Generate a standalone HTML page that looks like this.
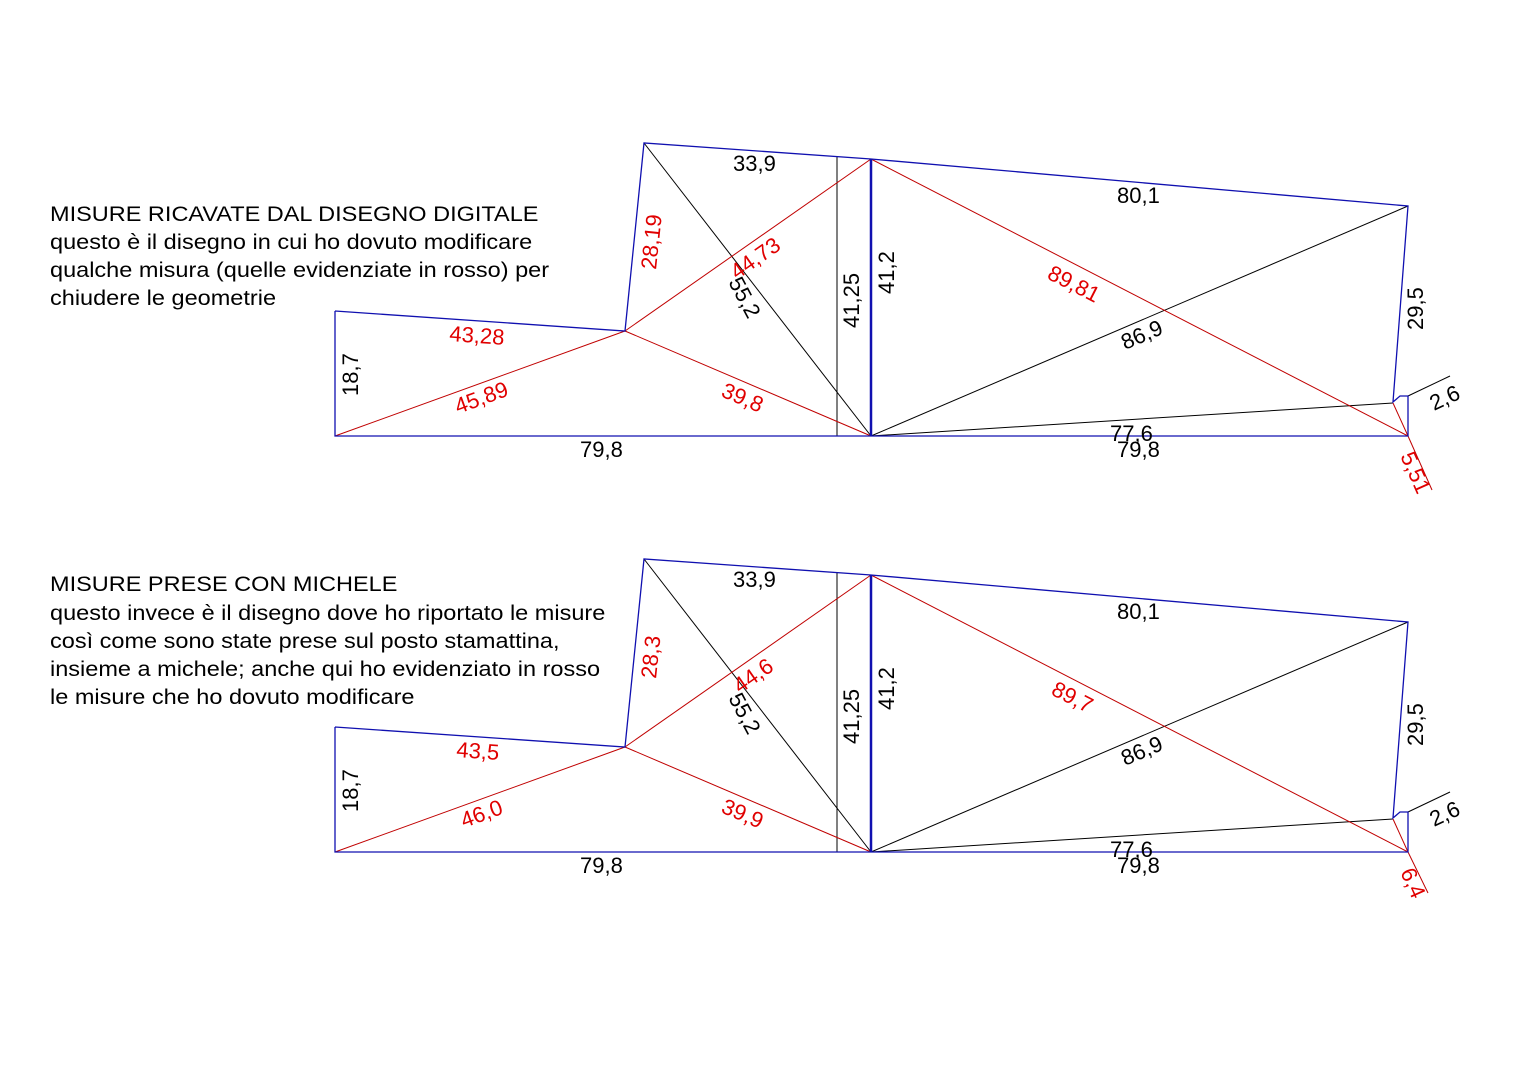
<!DOCTYPE html>
<html><head><meta charset="utf-8"><style>
html,body{margin:0;padding:0;background:#fff}
svg{display:block}
text{font-family:"Liberation Sans",sans-serif}
.b{fill:#000}.r{fill:#e00000}
</style></head><body>
<svg width="1527" height="1080" viewBox="0 0 1527 1080" xmlns="http://www.w3.org/2000/svg">
<g font-size="21" fill="#000" transform="translate(50,0) scale(1.12,1) translate(-50,0)">
<text x="50" y="221">MISURE RICAVATE DAL DISEGNO DIGITALE</text>
<text x="50" y="249">questo è il disegno in cui ho dovuto modificare</text>
<text x="50" y="277">qualche misura (quelle evidenziate in rosso) per</text>
<text x="50" y="305">chiudere le geometrie</text>
<text x="50" y="591">MISURE PRESE CON MICHELE</text>
<text x="50" y="620">questo invece è il disegno dove ho riportato le misure</text>
<text x="50" y="648">così come sono state prese sul posto stamattina,</text>
<text x="50" y="676">insieme a michele; anche qui ho evidenziato in rosso</text>
<text x="50" y="704">le misure che ho dovuto modificare</text>
</g>

<!-- TOP FIGURE -->
<g id="top">
<g stroke="#000" stroke-width="1" fill="none">
<line x1="837" y1="157" x2="837" y2="436"/>
<line x1="644" y1="143" x2="871" y2="436"/>
<line x1="871" y1="436" x2="1408" y2="206"/>
<line x1="871" y1="436" x2="1393" y2="403"/>
<line x1="1408" y1="396" x2="1450" y2="376"/>
</g>
<g stroke="#c00000" stroke-width="1" fill="none">
<line x1="335" y1="436" x2="625" y2="331"/>
<line x1="625" y1="331" x2="871" y2="436"/>
<line x1="625" y1="331" x2="871" y2="159"/>
<line x1="871" y1="159" x2="1408" y2="436"/>
<line x1="1393" y1="403" x2="1408" y2="436"/>
<line x1="1408" y1="436" x2="1432" y2="490"/>
</g>
<g stroke="#1010b0" stroke-width="1.3" fill="none">
<polyline points="335,311 335,436 1408,436 1408,396 1400,396 1393,402 1408,206 871,159 644,143 625,331 335,311"/>
<line x1="871" y1="159" x2="871" y2="436" stroke-width="2.5"/>
</g>
<g font-size="22">
<text class="b" x="733" y="171">33,9</text>
<text class="b" x="1117" y="203">80,1</text>
<text class="b" x="580" y="457">79,8</text>
<text class="b" x="1117" y="457">79,8</text>
<text class="b" x="1110" y="441">77,6</text>
<text class="b" x="1125" y="350" transform="rotate(-23 1125 350)">86,9</text>
<text class="b" x="1434" y="411" transform="rotate(-25 1434 411)">2,6</text>
<text class="b" x="358" y="396" transform="rotate(-90 358 396)">18,7</text>
<text class="b" x="859" y="328" transform="rotate(-90 859 328)">41,25</text>
<text class="b" x="894" y="294" transform="rotate(-90 894 294)">41,2</text>
<text class="b" x="1423" y="330" transform="rotate(-90 1423 330)">29,5</text>
<text class="b" x="728" y="282" transform="rotate(62 728 282)">55,2</text>
<text class="r" x="449" y="341" transform="rotate(4 449 341)">43,28</text>
<text class="r" x="458" y="414" transform="rotate(-20 458 414)">45,89</text>
<text class="r" x="720" y="396" transform="rotate(23 720 396)">39,8</text>
<text class="r" x="656" y="270" transform="rotate(-84 656 270)">28,19</text>
<text class="r" x="737" y="280" transform="rotate(-35 737 280)">44,73</text>
<text class="r" x="1046" y="278" transform="rotate(27 1046 278)">89,81</text>
<text class="r" x="1400" y="456" transform="rotate(66 1400 456)">5,51</text>
</g>
</g>

<!-- BOTTOM FIGURE -->
<g transform="translate(0,416)">
<g stroke="#000" stroke-width="1" fill="none">
<line x1="837" y1="157" x2="837" y2="436"/>
<line x1="644" y1="143" x2="871" y2="436"/>
<line x1="871" y1="436" x2="1408" y2="206"/>
<line x1="871" y1="436" x2="1393" y2="403"/>
<line x1="1408" y1="396" x2="1450" y2="376"/>
</g>
<g stroke="#c00000" stroke-width="1" fill="none">
<line x1="335" y1="436" x2="625" y2="331"/>
<line x1="625" y1="331" x2="871" y2="436"/>
<line x1="625" y1="331" x2="871" y2="159"/>
<line x1="871" y1="159" x2="1408" y2="436"/>
<line x1="1393" y1="403" x2="1408" y2="436"/>
<line x1="1408" y1="436" x2="1428" y2="477"/>
</g>
<g stroke="#1010b0" stroke-width="1.3" fill="none">
<polyline points="335,311 335,436 1408,436 1408,396 1400,396 1393,402 1408,206 871,159 644,143 625,331 335,311"/>
<line x1="871" y1="159" x2="871" y2="436" stroke-width="2.5"/>
</g>
<g font-size="22">
<text class="b" x="733" y="171">33,9</text>
<text class="b" x="1117" y="203">80,1</text>
<text class="b" x="580" y="457">79,8</text>
<text class="b" x="1117" y="457">79,8</text>
<text class="b" x="1110" y="441">77,6</text>
<text class="b" x="1125" y="350" transform="rotate(-23 1125 350)">86,9</text>
<text class="b" x="1434" y="411" transform="rotate(-25 1434 411)">2,6</text>
<text class="b" x="358" y="396" transform="rotate(-90 358 396)">18,7</text>
<text class="b" x="859" y="328" transform="rotate(-90 859 328)">41,25</text>
<text class="b" x="894" y="294" transform="rotate(-90 894 294)">41,2</text>
<text class="b" x="1423" y="330" transform="rotate(-90 1423 330)">29,5</text>
<text class="b" x="728" y="282" transform="rotate(62 728 282)">55,2</text>
<text class="r" x="456" y="341" transform="rotate(4 456 341)">43,5</text>
<text class="r" x="464" y="412" transform="rotate(-20 464 412)">46,0</text>
<text class="r" x="720" y="396" transform="rotate(23 720 396)">39,9</text>
<text class="r" x="656" y="263" transform="rotate(-84 656 263)">28,3</text>
<text class="r" x="740" y="278" transform="rotate(-35 740 278)">44,6</text>
<text class="r" x="1050" y="278" transform="rotate(27 1050 278)">89,7</text>
<text class="r" x="1400" y="456" transform="rotate(66 1400 456)">6,4</text>
</g>
</g>
</svg>
</body></html>
